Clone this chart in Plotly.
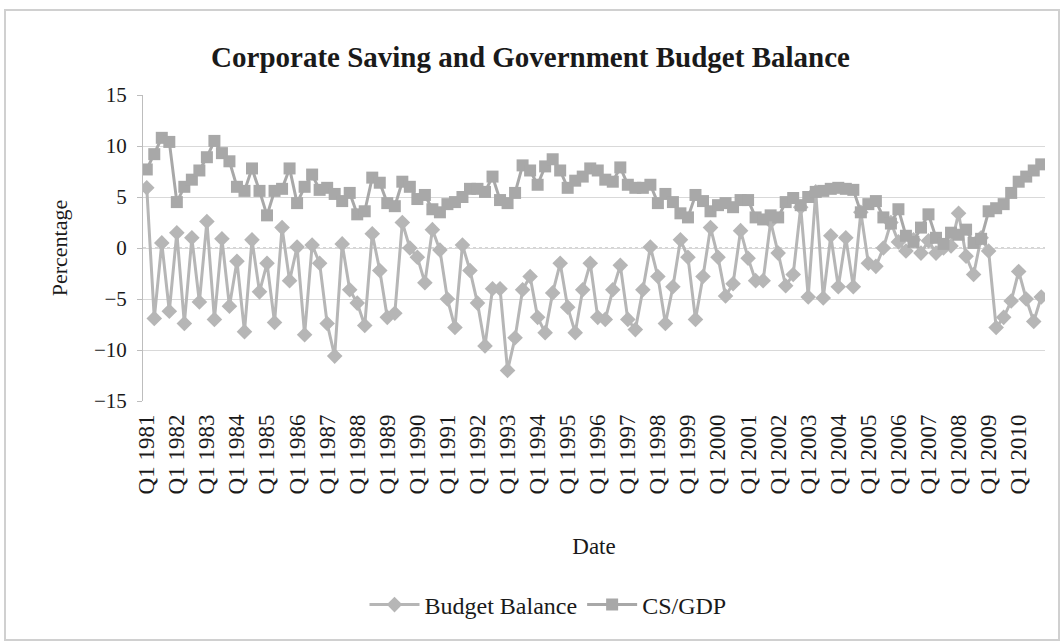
import plotly.graph_objects as go

years = list(range(1981, 2011))
quarters = ["Q1", "Q2", "Q3", "Q4"]
categories = [f"{q} {y}" for y in years for q in quarters]
tick_labels = [f"Q1 {y}" for y in years]

budget_balance = [
    5.9, -6.9, 0.5, -6.2,     # 1981
    1.5, -7.4, 1.0, -5.3,     # 1982
    2.6, -7.0, 0.9, -5.7,     # 1983
    -1.3, -8.2, 0.8, -4.3,    # 1984
    -1.5, -7.3, 2.0, -3.2,    # 1985
    0.1, -8.5, 0.3, -1.5,     # 1986
    -7.4, -10.6, 0.4, -4.1,   # 1987
    -5.4, -7.6, 1.4, -2.2,    # 1988
    -6.8, -6.4, 2.5, 0.0,     # 1989
    -0.9, -3.4, 1.8, -0.2,    # 1990
    -5.0, -7.8, 0.3, -2.2,    # 1991
    -5.4, -9.6, -4.0, -4.0,   # 1992
    -12.0, -8.8, -4.1, -2.8,  # 1993
    -6.8, -8.3, -4.4, -1.5,   # 1994
    -5.8, -8.3, -4.1, -1.5,   # 1995
    -6.8, -7.0, -4.1, -1.7,   # 1996
    -7.0, -8.0, -4.1, 0.1,    # 1997
    -2.8, -7.4, -3.8, 0.8,    # 1998
    -0.9, -7.0, -2.8, 2.0,    # 1999
    -0.9, -4.7, -3.5, 1.7,    # 2000
    -1.0, -3.2, -3.2, 2.6,    # 2001
    -0.5, -3.7, -2.6, 4.0,    # 2002
    -4.8, 5.5, -4.9, 1.2,     # 2003
    -3.8, 1.0, -3.8, 3.5,     # 2004
    -1.5, -1.8, 0.0, 2.5,     # 2005
    0.6, -0.3, 0.8, -0.5,     # 2006
    0.7, -0.5, 0.0, 0.2,      # 2007
    3.4, -0.8, -2.6, 1.0,     # 2008
    -0.3, -7.8, -6.8, -5.2,   # 2009
    -2.3, -5.0, -7.2, -4.8,   # 2010
]

cs_gdp = [
    7.7, 9.2, 10.8, 10.4,     # 1981
    4.5, 6.0, 6.7, 7.6,       # 1982
    8.9, 10.5, 9.3, 8.5,      # 1983
    6.0, 5.6, 7.8, 5.6,       # 1984
    3.2, 5.6, 5.8, 7.8,       # 1985
    4.4, 6.0, 7.2, 5.7,       # 1986
    5.9, 5.3, 4.6, 5.4,       # 1987
    3.3, 3.6, 6.9, 6.4,       # 1988
    4.4, 4.1, 6.5, 6.0,       # 1989
    4.8, 5.2, 3.8, 3.5,       # 1990
    4.3, 4.5, 5.0, 5.8,       # 1991
    5.8, 5.5, 7.0, 4.7,       # 1992
    4.4, 5.4, 8.1, 7.6,       # 1993
    6.2, 8.0, 8.7, 7.6,       # 1994
    5.9, 6.6, 7.0, 7.8,       # 1995
    7.6, 6.7, 6.5, 7.9,       # 1996
    6.2, 5.9, 5.9, 6.2,       # 1997
    4.4, 5.3, 4.5, 3.4,       # 1998
    3.0, 5.2, 4.6, 3.6,       # 1999
    4.2, 4.4, 4.0, 4.7,       # 2000
    4.7, 3.0, 2.8, 3.2,       # 2001
    3.0, 4.5, 4.9, 4.2,       # 2002
    5.0, 5.5, 5.6, 5.8,       # 2003
    5.9, 5.8, 5.7, 3.5,       # 2004
    4.3, 4.6, 3.0, 2.4,       # 2005
    3.8, 1.2, 0.6, 2.0,       # 2006
    3.3, 1.0, 0.4, 1.5,       # 2007
    1.3, 1.8, 0.5, 0.9,       # 2008
    3.6, 3.9, 4.3, 5.4,       # 2009
    6.5, 7.0, 7.6, 8.2,       # 2010
]

serif = "Liberation Serif, Times New Roman, serif"
txt = "#1a1a1a"

fig = go.Figure()
fig.add_trace(go.Scatter(
    x=categories, y=budget_balance, name="Budget Balance", mode="lines+markers",
    line=dict(color="#b6b6b6", width=3),
    marker=dict(symbol="diamond", size=12, color="#b6b6b6"),
))
fig.add_trace(go.Scatter(
    x=categories, y=cs_gdp, name="CS/GDP", mode="lines+markers",
    line=dict(color="#a8a8a8", width=3),
    marker=dict(symbol="square", size=12, color="#a8a8a8"),
))

L, R, T, B = 143, 16, 95, 241
W = 1061 - L - R
H = 642 - T - B

fig.update_layout(
    width=1061, height=642,
    margin=dict(l=L, r=R, t=T, b=B),
    paper_bgcolor="white", plot_bgcolor="white",
    font=dict(family=serif, size=22, color=txt),
    title=dict(text="<b>Corporate Saving and Government Budget Balance</b>",
               x=0.5, xanchor="center", y=1 - 57 / 642, yanchor="middle",
               font=dict(family=serif, size=29, color=txt)),
    showlegend=True,
    legend=dict(orientation="h", x=(548 - L) / W, xanchor="center",
                y=-(605 - (T + H)) / H, yanchor="middle",
                font=dict(family=serif, size=24, color=txt), itemwidth=50,
                bgcolor="rgba(0,0,0,0)"),
    xaxis=dict(
        type="category", categoryorder="array", categoryarray=categories,
        tickmode="array", tickvals=tick_labels, ticktext=tick_labels,
        tickangle=-90, showgrid=False, zeroline=False, showline=False,
        ticks="", tickfont=dict(family=serif, size=23, color=txt),
        ticklabelstandoff=8,
        title=dict(text="Date", font=dict(family=serif, size=23, color=txt), standoff=44),
        range=[-0.5, len(categories) - 0.5],
    ),
    yaxis=dict(
        range=[-15, 15], dtick=5, tick0=0,
        showgrid=True, gridcolor="#d9d9d9", gridwidth=1,
        zeroline=False, showline=True, linecolor="#bdbdbd", linewidth=1,
        ticks="outside", ticklen=5, tickcolor="#bdbdbd",
        tickfont=dict(family=serif, size=21, color=txt), ticklabelstandoff=6,
        title=dict(text="Percentage", font=dict(family=serif, size=22, color=txt), standoff=20),
    ),
)

# category axis crossing at zero (Excel style)
fig.add_shape(type="line", xref="paper", yref="y", x0=0, x1=1, y0=0, y1=0,
              line=dict(color="#c8c8c8", width=1.5, dash="dot"), layer="below")
# chart area border
fig.add_shape(type="rect", xref="paper", yref="paper",
              x0=(5 - L) / W, x1=(1059 - L) / W,
              y0=-(640 - (T + H)) / H, y1=(T + H - 10) / H,
              line=dict(color="#d0d0d0", width=2), fillcolor="rgba(0,0,0,0)",
              layer="below")

fig.write_html("out.html")
